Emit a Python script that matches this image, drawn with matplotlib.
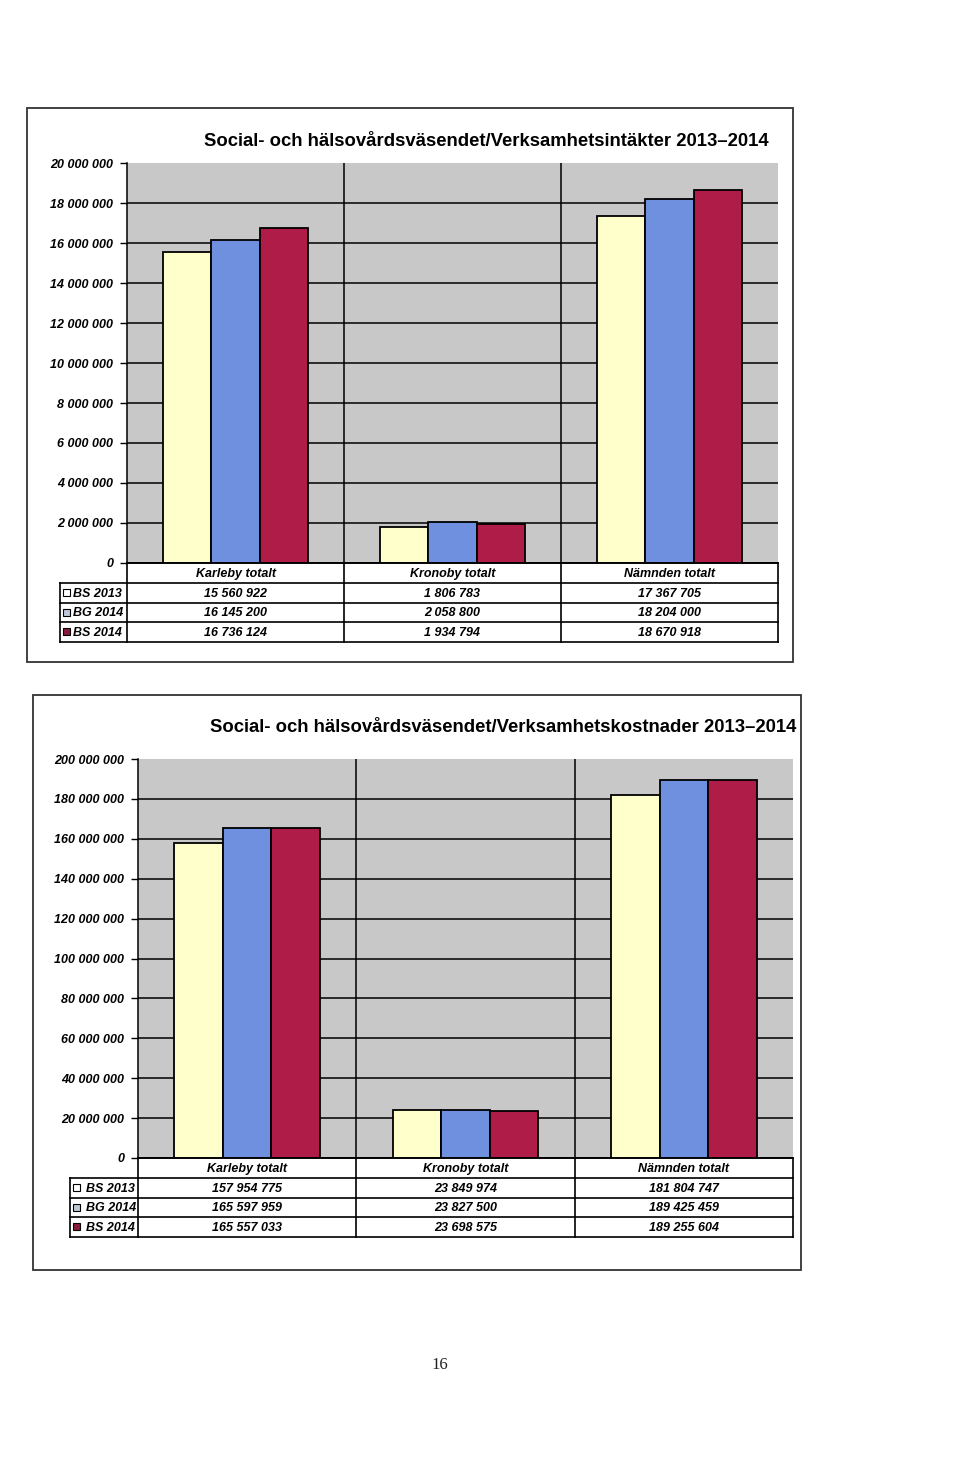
import matplotlib
matplotlib.use("Agg")
import matplotlib.pyplot as plt
from matplotlib.patches import Rectangle

# ---------------- data ----------------
categories = ["Karleby totalt", "Kronoby totalt", "Nämnden totalt"]
series_names = ["BS 2013", "BG 2014", "BS 2014"]

income_bs2013 = [15560922, 1806783, 17367705]
income_bg2014 = [16145200, 2058800, 18204000]
income_bs2014 = [16736124, 1934794, 18670918]
income_ticks = [0, 2000000, 4000000, 6000000, 8000000, 10000000,
                12000000, 14000000, 16000000, 18000000, 20000000]

cost_bs2013 = [157954775, 23849974, 181804747]
cost_bg2014 = [165597959, 23827500, 189425459]
cost_bs2014 = [165557033, 23698575, 189255604]
cost_ticks = [0, 20000000, 40000000, 60000000, 80000000, 100000000,
              120000000, 140000000, 160000000, 180000000, 200000000]

title_income = "Social- och hälsovårdsväsendet/Verksamhetsintäkter 2013\u20132014"
title_cost = "Social- och hälsovårdsväsendet/Verksamhetskostnader 2013\u20132014"

# ---------------- style ----------------
W, H = 960, 1461
colors = ["#ffffcc", "#6f8fdf", "#b01c48"]
legend_marker_colors = ["#ffffff", "#c0c8d8", "#8a1a3a"]
bg = "#c8c8c8"
FONT = "Liberation Sans"

fig = plt.figure(figsize=(W / 100, H / 100), dpi=100)
ov = fig.add_axes([0, 0, 1, 1], zorder=5)
ov.set_xlim(0, W)
ov.set_ylim(H, 0)
ov.axis("off")
ov.patch.set_alpha(0)


def fmt(v):
    return f"{v:,}".replace(",", " ")


def chart(box, plot, table_left, title, title_xy, series, ticks, tick_pad,
          label_gap):
    L, T, R, B = plot
    bx0, by0, bx1, by1 = box
    ov.add_patch(Rectangle((bx0, by0), bx1 - bx0, by1 - by0, fill=False,
                           ec="#333333", lw=1.3))
    ov.text(title_xy[0], title_xy[1], title, ha="center", va="center",
            fontsize=13.3, fontweight="bold", family=FONT, color="black")

    ax = fig.add_axes([L / W, (H - B) / H, (R - L) / W, (B - T) / H])
    ax.set_facecolor(bg)
    n = len(categories)
    bw = 0.222
    for i, vals in enumerate(series):
        xs = [c + (i - 1) * bw for c in range(n)]
        ax.bar(xs, vals, width=bw, color=colors[i], edgecolor="black",
               linewidth=1.3, zorder=3)
    ax.set_xlim(-0.5, n - 0.5)
    ax.set_ylim(ticks[0], ticks[-1])
    ax.set_yticks(ticks)
    ax.set_yticklabels([fmt(t) for t in ticks], fontsize=9,
                       fontweight="bold", style="italic", family=FONT)
    ax.tick_params(axis="y", length=5, width=1, pad=tick_pad, color="black")
    ax.set_xticks([])
    ax.yaxis.grid(True, color="black", lw=1.1)
    ax.get_ygridlines()[-1].set_visible(False)
    ax.set_axisbelow(True)
    for c in range(1, n):
        ax.axvline(c - 0.5, color="black", lw=1.1, zorder=1)
    for s in ["top", "right"]:
        ax.spines[s].set_visible(False)
    ax.spines["left"].set_linewidth(1.1)
    ax.spines["bottom"].set_linewidth(1.1)

    # table
    row_h = [20, 19.5, 19.5, 19.5]
    ys = [B]
    for h in row_h:
        ys.append(ys[-1] + h)
    colw = (R - L) / n
    lw = 1.2
    ov.plot([L, R], [ys[0], ys[0]], color="black", lw=lw)
    for y in ys[1:]:
        ov.plot([table_left, R], [y, y], color="black", lw=lw)
    ov.plot([table_left, table_left], [ys[1], ys[-1]], color="black", lw=lw)
    ov.plot([L, L], [ys[0], ys[-1]], color="black", lw=lw)
    ov.plot([R, R], [ys[0], ys[-1]], color="black", lw=lw)
    for c in range(1, n):
        xx = L + c * colw
        ov.plot([xx, xx], [ys[0], ys[-1]], color="black", lw=lw)
    fkw = dict(fontsize=9, fontweight="bold", style="italic", family=FONT,
               color="black")
    for c, cat in enumerate(categories):
        cx = L + (c + 0.5) * colw
        ov.text(cx, (ys[0] + ys[1]) / 2 + 1, cat, ha="center", va="center", **fkw)
        for r, vals in enumerate(series):
            ov.text(cx, (ys[r + 1] + ys[r + 2]) / 2 + 1, fmt(vals[c]),
                    ha="center", va="center", **fkw)
    for r, name in enumerate(series_names):
        yc = (ys[r + 1] + ys[r + 2]) / 2
        ov.add_patch(Rectangle((table_left + 3, yc - 3.5), 7, 7,
                               fc=legend_marker_colors[r], ec="black", lw=0.8))
        ov.text(table_left + 13 + label_gap, yc + 1, name, ha="left",
                va="center", **fkw)


chart((27, 108, 793, 662), (127, 163, 778, 563), 60, title_income,
      (486, 141), [income_bs2013, income_bg2014, income_bs2014],
      income_ticks, 5, 0)
chart((33, 695, 801, 1270), (138, 759, 793, 1158), 70, title_cost,
      (503, 728), [cost_bs2013, cost_bg2014, cost_bs2014],
      cost_ticks, 5, 3)

ov.text(440, 1365, "16", ha="center", va="center", fontsize=12,
        family="Liberation Serif", color="#222222")

fig.savefig("out.png", dpi=100)
